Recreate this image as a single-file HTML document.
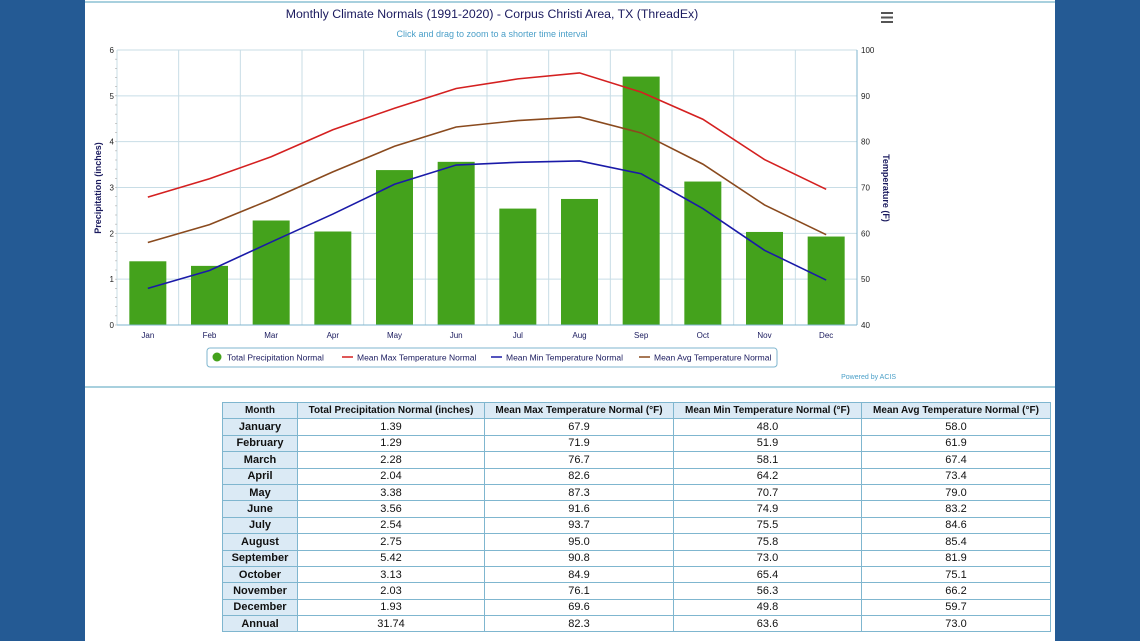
<!DOCTYPE html>
<html><head><meta charset="utf-8"><style>
body{margin:0;width:1140px;height:641px;background:#245a94;font-family:"Liberation Sans",sans-serif;overflow:hidden;position:relative}
#panel{position:absolute;left:85px;top:0;width:970px;height:641px;background:#fff}
table{position:absolute;left:222px;top:402px;border-collapse:collapse;font-size:11px;color:#111}
td,th{border:1px solid #7fb6cf;height:15.4px;padding:0;text-align:center}
th{background:#dbeaf5;font-weight:bold;font-size:10px}
td.m{background:#dbeaf5;font-weight:bold}
</style></head><body>
<div id="panel"></div>
<svg id="chart" width="1140" height="400" style="position:absolute;left:0;top:0">
<line x1="85" y1="2" x2="1055" y2="2" stroke="#8cc0d4" stroke-width="1.5"/>
<line x1="85" y1="387" x2="1055" y2="387" stroke="#8cc0d4" stroke-width="1.5"/>
<text x="492" y="18" text-anchor="middle" font-size="12.3" fill="#1a1a5e">Monthly Climate Normals (1991-2020) - Corpus Christi Area, TX (ThreadEx)</text>
<text x="492" y="37" text-anchor="middle" font-size="9" fill="#4a9fc8">Click and drag to zoom to a shorter time interval</text>
<g stroke="#555" stroke-width="2"><line x1="881" y1="13" x2="893" y2="13"/><line x1="881" y1="17.5" x2="893" y2="17.5"/><line x1="881" y1="22" x2="893" y2="22"/></g>
<g id="grid"></g><g id="bars"></g><g id="lines"></g><g id="axes"></g>
<text transform="translate(101,188) rotate(-90)" text-anchor="middle" font-size="9" font-weight="bold" fill="#1a1a5e">Precipitation (inches)</text>
<text transform="translate(883,188) rotate(90)" text-anchor="middle" font-size="9" font-weight="bold" fill="#1a1a5e">Temperature (F)</text>
<g>
<rect x="207" y="348" width="570" height="19" rx="3" fill="#fff" stroke="#7fb6cf"/>
<g><circle cx="217" cy="357" r="4.5" fill="#44a21c"/><text x="227" y="360.5" font-size="8.5" fill="#1a1a5e">Total Precipitation Normal</text></g>
<g><line x1="342" y1="357" x2="353" y2="357" stroke="#d42020" stroke-width="1.5"/><text x="357" y="360.5" font-size="8.5" fill="#1a1a5e">Mean Max Temperature Normal</text></g>
<g><line x1="491" y1="357" x2="502" y2="357" stroke="#1a1aa8" stroke-width="1.5"/><text x="506" y="360.5" font-size="8.5" fill="#1a1a5e">Mean Min Temperature Normal</text></g>
<g><line x1="639" y1="357" x2="650" y2="357" stroke="#8a4a1e" stroke-width="1.5"/><text x="654" y="360.5" font-size="8.5" fill="#1a1a5e">Mean Avg Temperature Normal</text></g>
</g>
<text x="896" y="379" text-anchor="end" font-size="7" fill="#4a9fc8">Powered by ACIS</text>
</svg>
<table>
<tr><th style="width:74px">Month</th><th style="width:186px">Total Precipitation Normal (inches)</th><th style="width:188px">Mean Max Temperature Normal (°F)</th><th style="width:187px">Mean Min Temperature Normal (°F)</th><th style="width:188px">Mean Avg Temperature Normal (°F)</th></tr>
<tbody id="tb"></tbody></table>
<script>
const months=["Jan","Feb","Mar","Apr","May","Jun","Jul","Aug","Sep","Oct","Nov","Dec"];
const monthNames=["January","February","March","April","May","June","July","August","September","October","November","December","Annual"];
const precip=[1.39,1.29,2.28,2.04,3.38,3.56,2.54,2.75,5.42,3.13,2.03,1.93];
const tmax=[67.9,71.9,76.7,82.6,87.3,91.6,93.7,95.0,90.8,84.9,76.1,69.6];
const tmin=[48.0,51.9,58.1,64.2,70.7,74.9,75.5,75.8,73.0,65.4,56.3,49.8];
const tavg=[58.0,61.9,67.4,73.4,79.0,83.2,84.6,85.4,81.9,75.1,66.2,59.7];
const annual=["31.74","82.3","63.6","73.0"];
const leftTicks=[0,1,2,3,4,5,6];
const rightTicks=[40,50,60,70,80,90,100];
const L=117,R=857,T=50,B=325,cw=(R-L)/12;
const xc=i=>L+cw*(i+0.5);
const yp=v=>B-(v/6)*(B-T);
const yt=v=>B-((v-40)/60)*(B-T);
const NS="http://www.w3.org/2000/svg";
function mk(p,t,a){const e=document.createElementNS(NS,t);for(const k in a)e.setAttribute(k,a[k]);p.appendChild(e);return e;}
const g=document.getElementById('grid'),ax=document.getElementById('axes');
leftTicks.forEach(v=>{const l=mk(g,'line',{x1:L,x2:R,y1:yp(v),y2:yp(v),stroke:'#c8dde6'});


const t=mk(ax,'text',{x:L-3,y:yp(v)+3,'text-anchor':'end','font-size':8,fill:'#222'});t.textContent=v;

});
for(let v=0;v<6;v+=0.2){mk(ax,'line',{x1:L-2,x2:L,y1:yp(v),y2:yp(v),stroke:'#aaa','stroke-width':0.6});}
rightTicks.forEach(v=>{const t=mk(ax,'text',{x:R+4,y:yt(v)+3,'font-size':8,fill:'#222'});t.textContent=v;

});
for(let i=0;i<=12;i++){mk(g,'line',{x1:L+cw*i,x2:L+cw*i,y1:T,y2:B,stroke:'#c8dde6'});}
mk(ax,'line',{x1:L,x2:R,y1:B,y2:B,stroke:'#7fb6cf'});
mk(ax,'line',{x1:R,x2:R,y1:T,y2:B,stroke:'#7fb6cf'});
months.forEach((m,i)=>{const t=mk(ax,'text',{x:xc(i),y:338,'text-anchor':'middle','font-size':8,fill:'#1a1a5e'});t.textContent=m;

});
const bg=document.getElementById('bars');
precip.forEach((v,i)=>{const r=mk(bg,'rect',{x:xc(i)-18.5,y:yp(v),width:37,height:B-yp(v),fill:'#44a21c'});

});
const lg=document.getElementById('lines');
[[tmax,'#d42020','line-max-temp'],[tmin,'#1a1aa8','line-min-temp'],[tavg,'#8a4a1e','line-avg-temp']].forEach(([d,c,n])=>{
const p=mk(lg,'polyline',{points:d.map((v,i)=>xc(i)+','+yt(v)).join(' '),fill:'none',stroke:c,'stroke-width':1.6});

});
const tb=document.getElementById('tb');
monthNames.forEach((m,i)=>{const tr=document.createElement('tr');


const vals=i<12?[precip[i].toFixed(2),tmax[i].toFixed(1),tmin[i].toFixed(1),tavg[i].toFixed(1)]:annual;
tr.innerHTML='<td class="m">'+m+'</td>'+vals.map(v=>'<td>'+v+'</td>').join('');tb.appendChild(tr);});
</script>
</body></html>
